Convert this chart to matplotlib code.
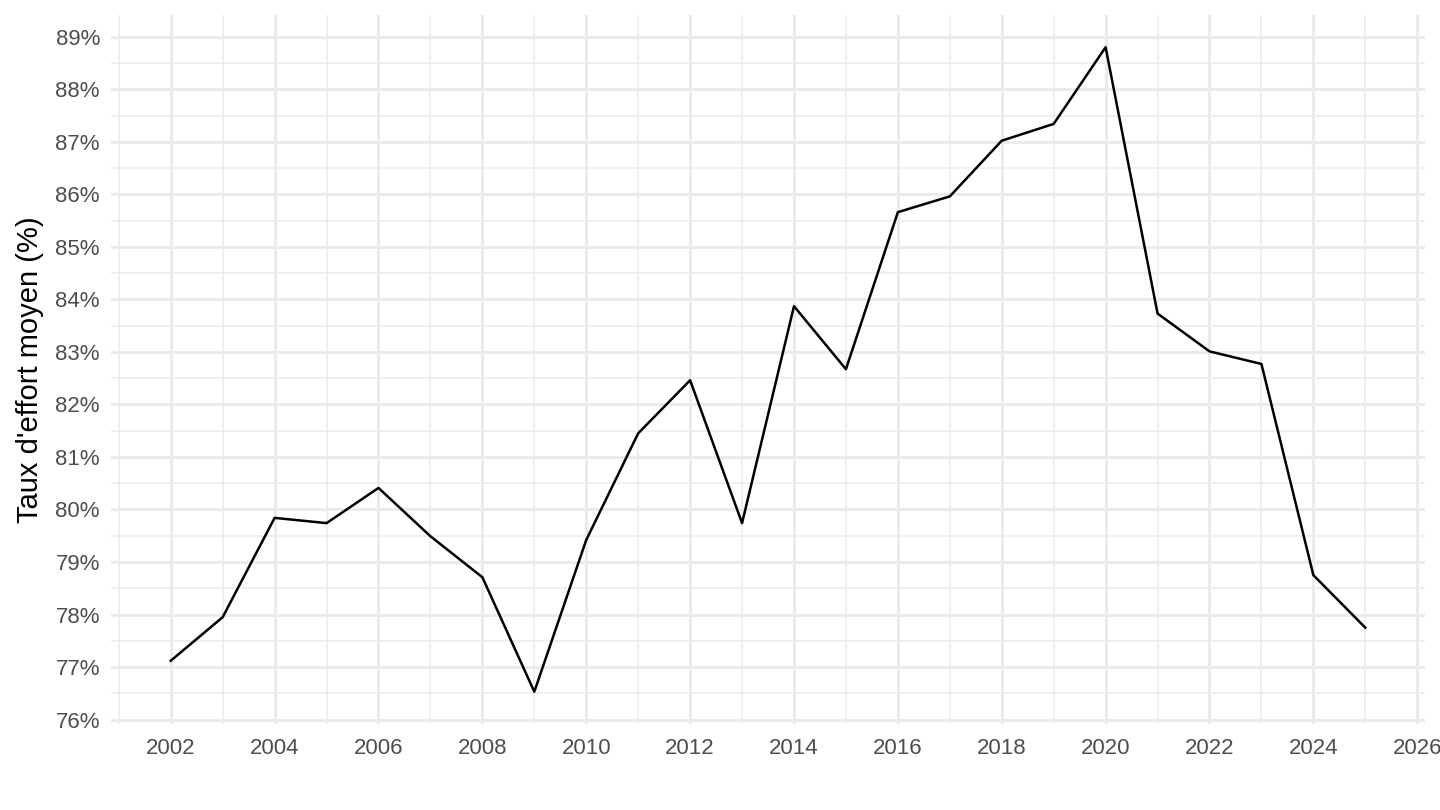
import matplotlib.pyplot as plt
from matplotlib.ticker import MultipleLocator, FuncFormatter

plt.rcParams['font.family'] = ['Liberation Sans', 'DejaVu Sans']

# Taux d'effort moyen par année
years = list(range(2002, 2026))
taux = [77.12, 77.95, 79.84, 79.74, 80.41, 79.49, 78.71, 76.53,
        79.42, 81.45, 82.46, 79.74, 83.87, 82.67, 85.66, 85.96,
        87.02, 87.34, 88.80, 83.73, 83.01, 82.77, 78.75, 77.75]

fig = plt.figure(figsize=(14.4, 8.1), dpi=100)
ax = fig.add_axes([0.0771, 0.1062, 0.9125, 0.8753])

ax.plot(years, taux, color='black', linewidth=1.8, zorder=3)

# limits like ggplot's 5% expansion
xr = max(years) - min(years)
yr = max(taux) - min(taux)
ax.set_xlim(min(years) - 0.05 * xr, max(years) + 0.05 * xr)
ax.set_ylim(min(taux) - 0.05 * yr, max(taux) + 0.05 * yr)

ax.xaxis.set_major_locator(MultipleLocator(2))
ax.xaxis.set_minor_locator(MultipleLocator(1))
ax.yaxis.set_major_locator(MultipleLocator(1))
ax.yaxis.set_minor_locator(MultipleLocator(0.5))
ax.yaxis.set_major_formatter(FuncFormatter(lambda v, p: f"{v:.0f}%"))

ax.grid(which='major', color='#EBEBEB', linewidth=2.2)
ax.grid(which='minor', color='#EBEBEB', linewidth=1.1)
ax.set_axisbelow(True)

for s in ax.spines.values():
    s.set_visible(False)
ax.tick_params(which='both', length=0)
ax.tick_params(axis='both', labelsize=16, labelcolor='#4D4D4D')
ax.tick_params(axis='x', pad=10)
ax.tick_params(axis='y', pad=8)

ax.set_ylabel("Taux d'effort moyen (%)", fontsize=21, color='black', labelpad=8)

fig.savefig('out.png', dpi=100)
